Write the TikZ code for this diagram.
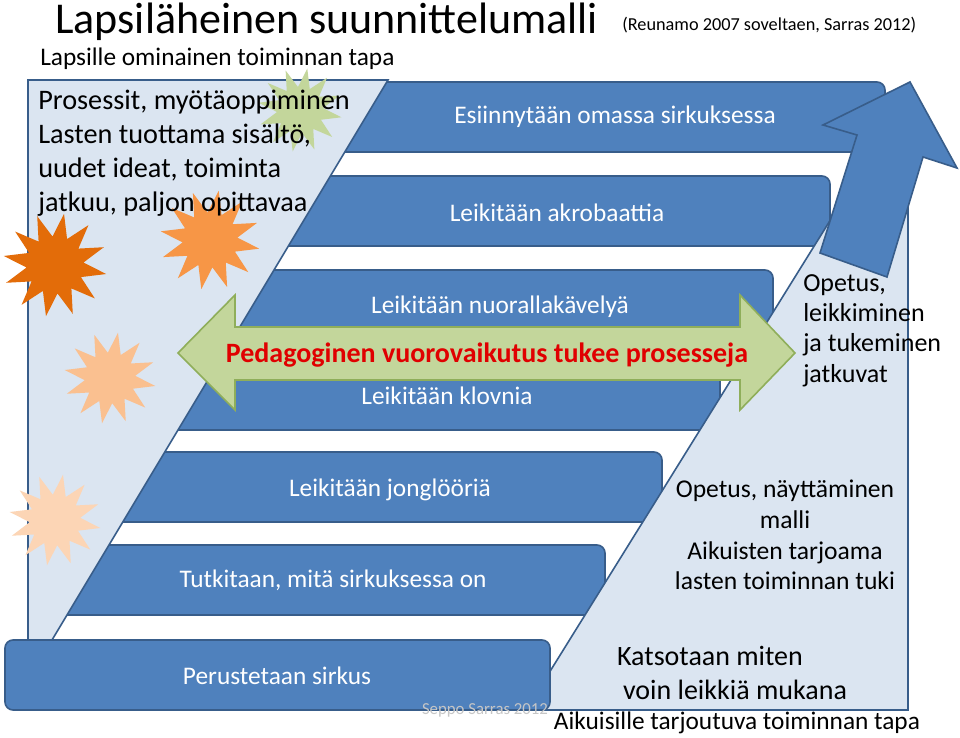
\documentclass[tikz,border=0pt]{standalone}
\usepackage{fontspec}
\setmainfont{Carlito}
\begin{document}
\begin{tikzpicture}[x=0.75pt,y=-0.75pt,
  bar/.style={fill=barblue,draw=bardark,line width=1.2pt,rounded corners=6pt},
  bartext/.style={text=white,font=\fontsize{19}{22}\selectfont},
  blk/.style={align=left,inner sep=0pt}]
\definecolor{barblue}{HTML}{4F81BD}
\definecolor{bardark}{HTML}{385D8A}
\definecolor{lightbg}{HTML}{DBE5F1}
\definecolor{greenf}{HTML}{C3D69B}
\definecolor{greend}{HTML}{8FAE5A}
\useasboundingbox (0,0) rectangle (960,738);
\fill[white] (0,0) rectangle (960,738);
% bars 1-6
\draw[bar] (300,82) rectangle (885,152);
\draw[bar] (240,176) rectangle (830,246);
\draw[bar] (180,270) rectangle (773,340);
\draw[bar] (140,360) rectangle (720,430);
\draw[bar] (90,452) rectangle (662,522);
\draw[bar] (45,545) rectangle (605,615);
% triangles
\fill[lightbg] (28,80) -- (388,80) -- (28,680) -- cycle;
\fill[lightbg] (908,95) -- (908,710) -- (526,710) -- cycle;
\draw[bardark,line width=1.2pt] (28,680) -- (28,80) -- (388,80) -- (28,680);
\draw[bardark,line width=1.2pt] (908,95) -- (526,710) -- (908,710) -- (908,95);
% bar 7
\draw[bar] (5,640) rectangle (550,710);
% texts on bars
\node[bartext] (b1) at (615,117) {Esiinnytään omassa sirkuksessa};
\node[bartext] (b2) at (557,213) {Leikitään akrobaattia};
\node[bartext] (b3) at (500,307) {Leikitään nuorallakävelyä};
\node[bartext] (b4) at (447,396) {Leikitään klovnia};
\node[bartext] (b5) at (390,490) {Leikitään jonglööriä};
\node[bartext] (b6) at (333,580) {Tutkitaan, mitä sirkuksessa on};
\node[bartext] (b7) at (277,676) {Perustetaan sirkus};
% big arrow
\draw[fill=barblue,draw=bardark,line width=1.2pt] (820,253) -- (857,135) -- (823,125) -- (910,82) -- (957,168) -- (923,157) -- (887,277) -- cycle;
% stars
\foreach \cx/\cy/\r/\c in {300/110/42/C3D69B, 55/265/52/E36C09, 210/240/50/F79646, 110/378/46/FAC090, 55/520/46/FCD5B5}{
  \definecolor{sc}{HTML}{\c}
  \fill[sc] plot[samples at={0,...,23},variable=\k] ({\cx+(\r*(0.55+0.45*mod(\k+1,2)))*cos(\k*15+10)},{\cy+(\r*(0.55+0.45*mod(\k+1,2)))*sin(\k*15+10)}) -- cycle;
}
% green double arrow
\draw[fill=greenf,draw=greend,line width=1.2pt] (178,353) -- (235,295) -- (235,327) -- (740,327) -- (740,295) -- (795,353) -- (740,410) -- (740,380) -- (235,380) -- (235,410) -- cycle;
\node[text={rgb,255:red,224;green,0;blue,0},font=\bfseries\fontsize{21}{24}\selectfont] (ped) at (487,355) {Pedagoginen vuorovaikutus tukee prosesseja};
% titles
\node[anchor=west,inner sep=0pt,font=\fontsize{33}{38}\selectfont] (title) at (55,22) {Lapsiläheinen suunnittelumalli};
\node[anchor=west,inner sep=0pt,font=\fontsize{13.7}{16}\selectfont] (ref) at (622,25) {(Reunamo 2007 soveltaen, Sarras 2012)};
\node[anchor=west,inner sep=0pt,font=\fontsize{19}{22}\selectfont] (sub) at (40,59) {Lapsille ominainen toiminnan tapa};
\node[blk,anchor=north west,font=\fontsize{21.2}{25.5}\selectfont] (lt) at (38,90) {Prosessit, myötäoppiminen\\Lasten tuottama sisältö,\\uudet ideat, toiminta\\jatkuu, paljon opittavaa};
\node[blk,anchor=north west,font=\fontsize{19.5}{22.8}\selectfont] (rt) at (803,274) {Opetus,\\leikkiminen\\ja tukeminen\\jatkuvat};
\node[blk,align=center,anchor=north,font=\fontsize{19.2}{23}\selectfont] (ad) at (785,480) {Opetus, näyttäminen\\malli\\Aikuisten tarjoama\\lasten toiminnan tuki};
\node[font=\fontsize{21}{24}\selectfont] (k1) at (710,656) {Katsotaan miten};
\node[font=\fontsize{21}{24}\selectfont] (k2) at (735,690) {voin leikkiä mukana};
\node[font=\fontsize{19}{22}\selectfont] (k3) at (737,723) {Aikuisille tarjoutuva toiminnan tapa};
\node[text=gray!45,font=\fontsize{12.6}{15}\selectfont] (wm) at (485,710) {Seppo Sarras 2012};
\end{tikzpicture}
\end{document}
